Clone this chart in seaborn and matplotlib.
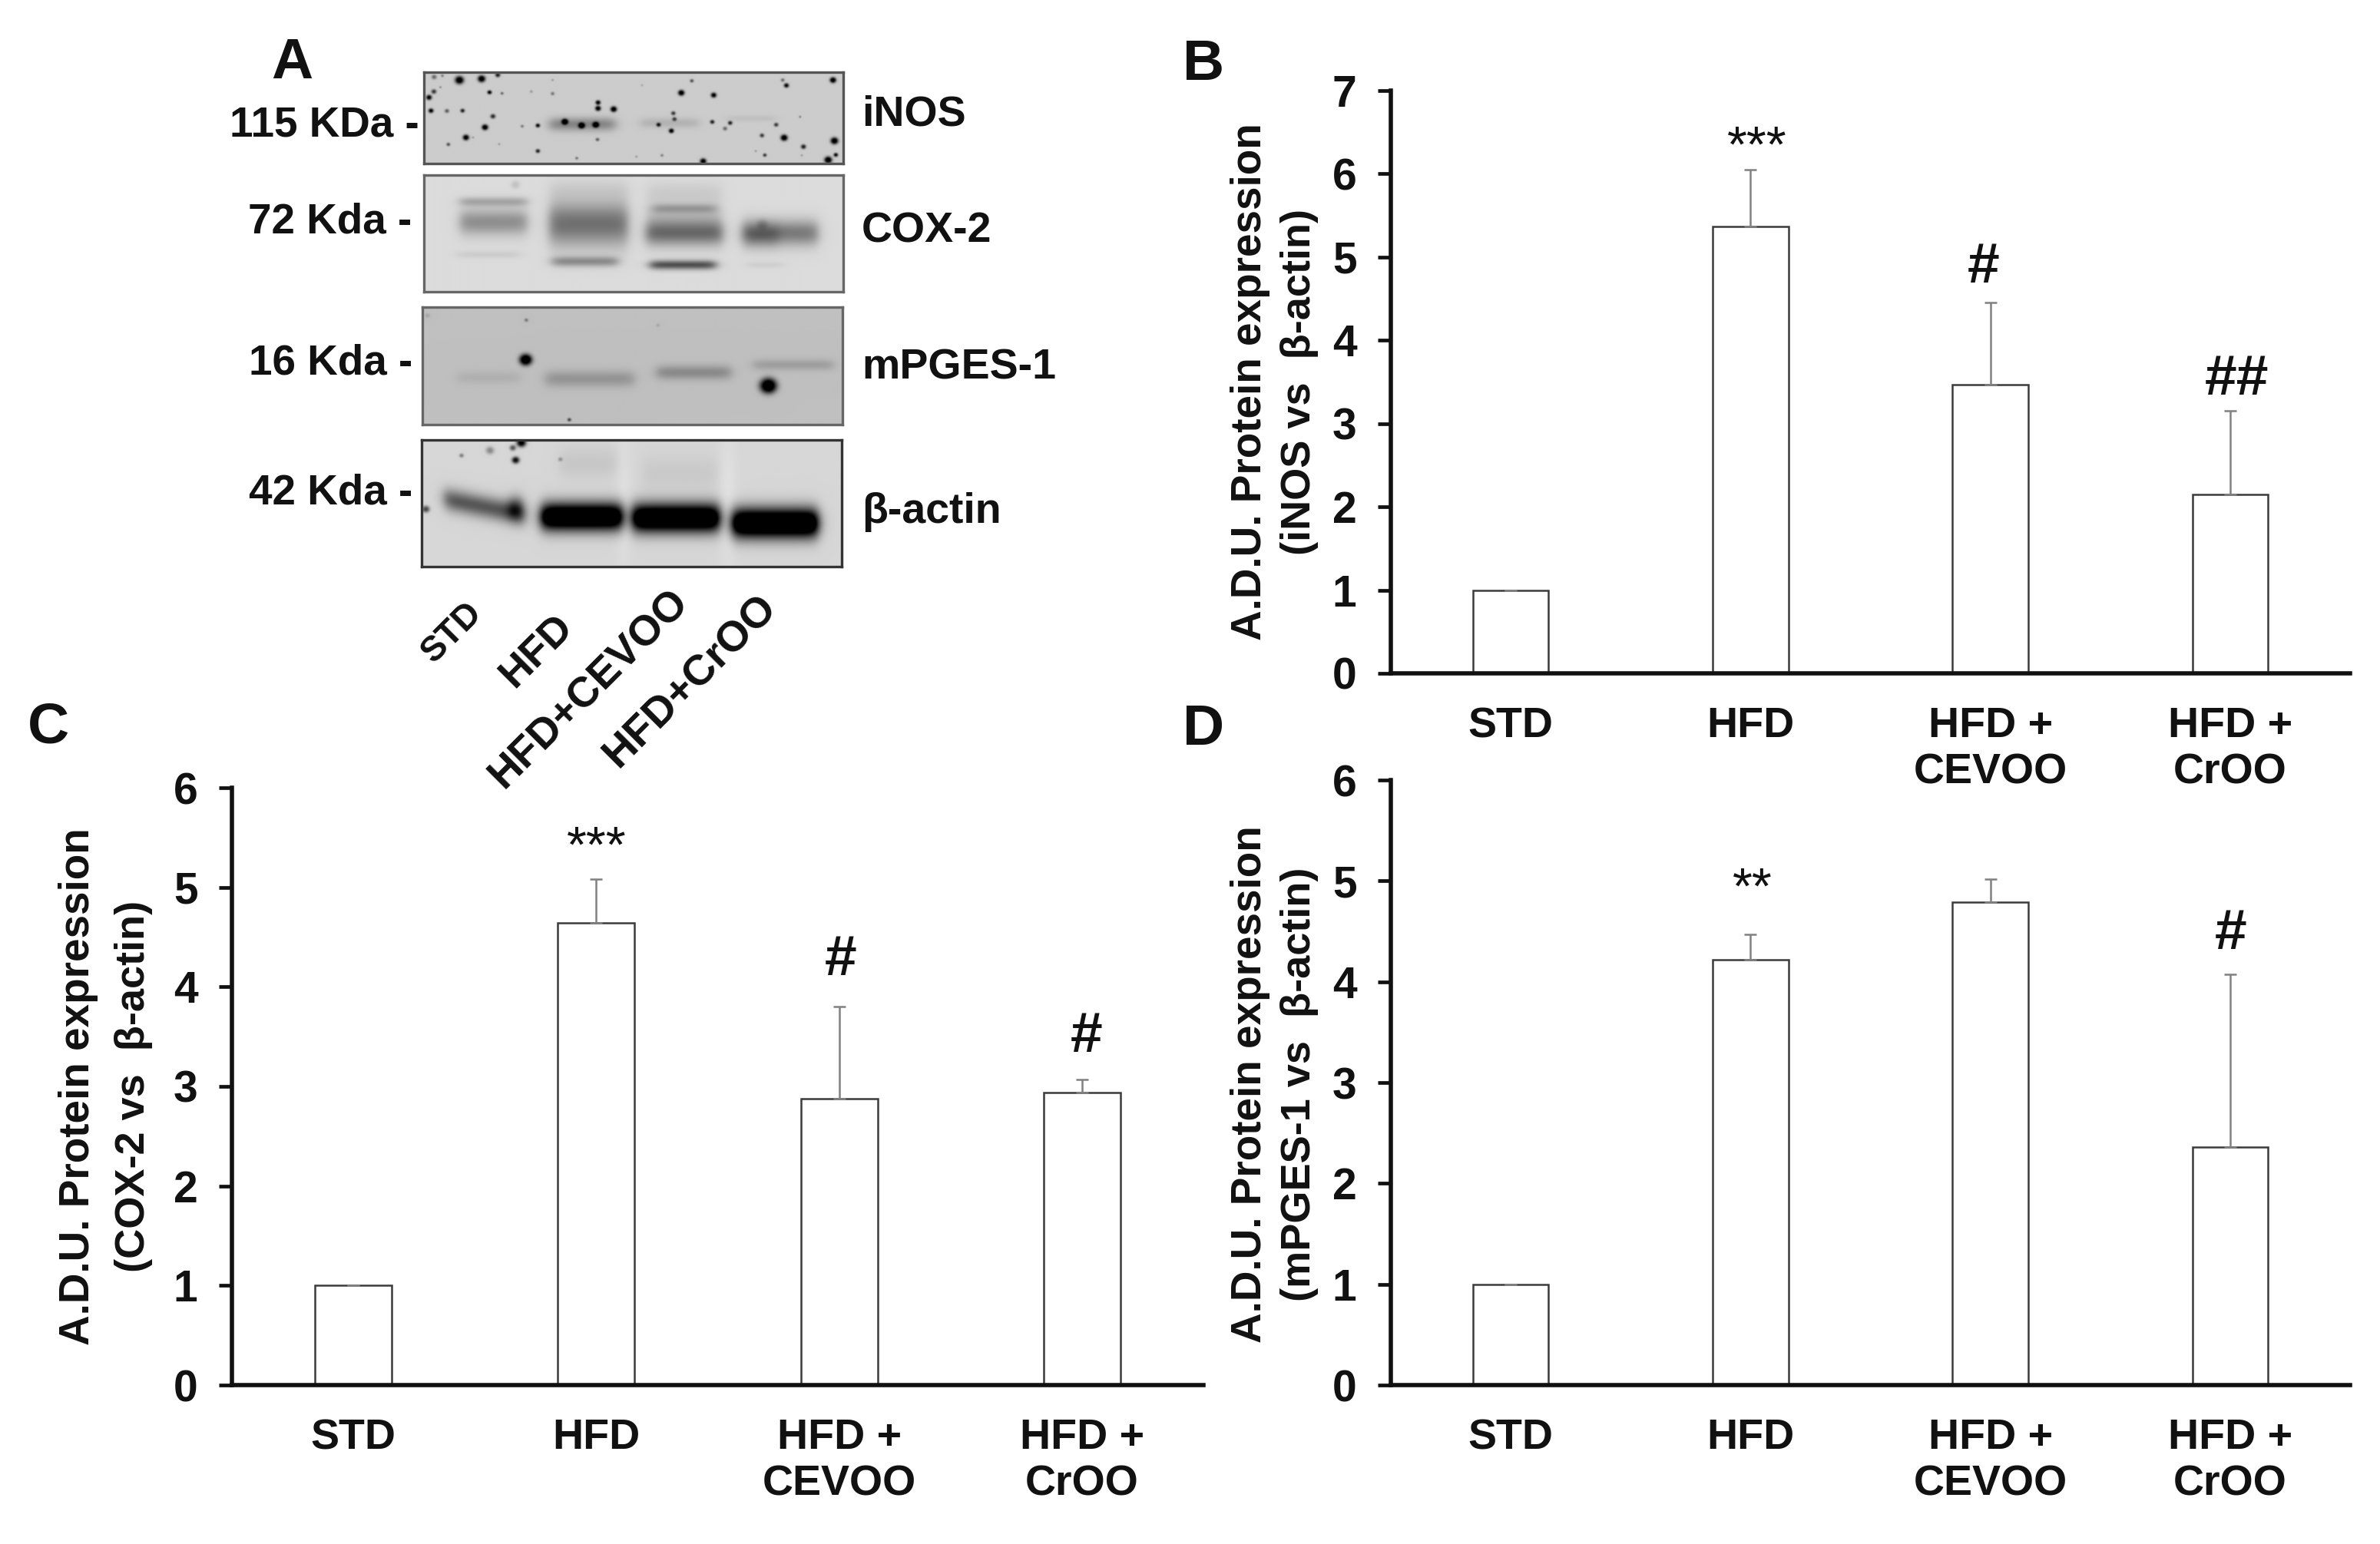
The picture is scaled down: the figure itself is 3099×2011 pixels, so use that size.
import numpy as np
import seaborn as sns
import matplotlib
matplotlib.use('Agg')
import matplotlib.pyplot as plt

W, H = 3099, 2011

groups = ['STD', 'HFD', 'HFD +\nCEVOO', 'HFD +\nCrOO']
inos_mean = [1.0, 5.37, 3.47, 2.15]
inos_top = [1.0, 6.05, 4.45, 3.15]
cox_mean = [1.0, 4.64, 2.88, 2.94]
cox_top = [1.0, 5.08, 3.80, 3.07]
pges_mean = [1.0, 4.22, 4.79, 2.36]
pges_top = [1.0, 4.47, 5.02, 4.07]

# blot marks: bands (x0, x1, y, sigma, darkness, tilt), specks (x, y, r, darkness)
inos_bands = [(475, 705, 245, 26, .28, 0), (795, 1000, 240, 20, .10, 0), (1100, 1270, 222, 12, .05, 0)]
inos_specks = [(157, 72, 14, .95), (235, 67, 12, .95), (292, 52, 8, .7), (68, 60, 8, .4), (97, 55, 5, .3),
               (67, 117, 8, .6), (50, 140, 9, .85), (90, 100, 4, .25), (57, 192, 8, .85), (113, 193, 7, .45),
               (168, 192, 7, .7), (263, 120, 7, .85), (307, 124, 5, .4), (275, 214, 8, .65), (247, 257, 10, .95),
               (180, 297, 10, .9), (118, 324, 6, .5), (205, 297, 4, .2), (297, 323, 4, .2), (378, 253, 5, .35),
               (433, 250, 7, .8), (433, 350, 7, .7), (410, 117, 5, .2), (485, 125, 6, .35), (485, 72, 4, .2),
               (528, 235, 10, .95), (587, 250, 10, .95), (637, 247, 10, .9), (645, 160, 8, .85), (645, 183, 9, .9),
               (700, 186, 10, .95), (643, 305, 6, .45), (570, 378, 5, .35), (800, 92, 4, .15), (858, 247, 7, .7),
               (910, 202, 7, .6), (914, 225, 7, .55), (903, 271, 8, .9), (938, 122, 10, .95), (975, 75, 6, .5),
               (1052, 131, 9, .85), (1047, 236, 7, .7), (1110, 240, 7, .7), (1092, 262, 7, .4), (1222, 289, 7, .6),
               (1272, 247, 7, .6), (1300, 298, 11, .95), (1295, 72, 6, .4), (1308, 93, 8, .8), (1356, 216, 4, .3),
               (1368, 333, 8, .7), (1232, 366, 6, .6), (1472, 72, 10, .95), (1477, 310, 12, .95), (1455, 385, 12, .98),
               (1482, 365, 7, .8), (1015, 390, 10, .9), (870, 367, 5, .3), (780, 372, 4, .2), (1200, 350, 4, .2),
               (1362, 367, 4, .2)]
cox_bands = [(160, 395, 548, 18, .20, 0), (160, 395, 628, 50, .30, 0), (150, 370, 755, 14, .06, 0),
             (475, 750, 635, 85, .42, 0), (485, 715, 782, 20, .30, 0),
             (480, 750, 500, 40, .05, 0), (815, 1085, 672, 48, .40, 0), (840, 1060, 575, 18, .18, 0),
             (820, 1080, 610, 70, .12, 0), (830, 1060, 795, 18, .55, 0), (820, 1080, 510, 40, .05, 0),
             (1155, 1420, 670, 50, .38, 0), (1160, 1280, 680, 48, .14, 0), (1170, 1300, 795, 12, .05, 0)]
cox_specks = [(355, 482, 14, .10), (1225, 635, 18, .12)]
pges_bands = [(150, 370, 305, 26, .06, 0), (460, 770, 310, 32, .17, 0), (850, 1110, 285, 28, .21, 0),
              (1190, 1470, 255, 22, .13, 0)]
pges_specks = [(390, 235, 20, 1.0), (1242, 337, 27, 1.0), (392, 80, 6, .3), (45, 62, 8, .1), (543, 470, 6, .5),
               (855, 100, 6, .1)]
actin_bands = [(105, 385, 780, 44, .50, .22), (335, 378, 815, 48, .50, 0), (445, 730, 850, 54, 1.25, 0),
               (765, 1070, 855, 56, 1.25, 0), (1115, 1415, 875, 58, 1.3, 0), (510, 710, 640, 60, .06, 0),
               (800, 1060, 680, 70, .05, 0), (720, 750, 800, 300, -.06, 0), (1080, 1120, 800, 300, -.06, 0)]
actin_specks = [(165, 610, 7, .35), (265, 590, 13, .3), (345, 580, 10, .5), (355, 628, 12, .8), (375, 560, 15, .9),
                (40, 820, 12, .55), (512, 625, 7, .25)]


def blot_image(box, bg, bands, specks):
    '''box is x0,x1,y0,y1 of the blot in crop units, 2 pixels a unit is plenty'''
    xs = np.arange(box[0], box[1], 2.0)
    ys = np.arange(box[2], box[3], 2.0)
    xx, yy = np.meshgrid(xs, ys)
    dark = np.zeros_like(xx)
    for x0, x1, y, s, d, tilt in bands:
        across = 0.5 * (np.tanh((xx - x0) / 22) - np.tanh((xx - x1) / 22))
        dark += d * across * np.exp(-((yy - y - tilt * (xx - x0)) / s) ** 2)
    for x, y, r, d in specks:
        dark += d * np.exp(-(np.hypot(xx - x, yy - y) / (1.1 * r)) ** 2.5)
    return np.clip(bg - dark, 0, 1)


def px_axes(left, right, top, bottom):
    return fig.add_axes([left / W, 1 - bottom / H, (right - left) / W, (bottom - top) / H])


def put(x, y, s, **kw):
    kw.setdefault('ha', 'center')
    kw.setdefault('va', 'center')
    kw.setdefault('fontweight', 'bold')
    kw.setdefault('color', '#111111')
    return fig.text(x / W, 1 - y / H, s, **kw)


def blot(left, right, top, bottom, box, bg, bands, specks, edge):
    ax = px_axes(left, right, top, bottom)
    ax.imshow(blot_image(box, bg, bands, specks), cmap='gray', vmin=0, vmax=1, aspect='auto', interpolation='bicubic')
    ax.set_xticks([])
    ax.set_yticks([])
    for sp in ax.spines.values():
        sp.set_linewidth(2.4)
        sp.set_color(edge)


def bars(left, right, top, bottom, means, tops, ymax):
    ax = px_axes(left, right, top, bottom)
    ax.patch.set_visible(False)
    sns.barplot(x=groups, y=means, color='white', edgecolor='#3a3a3a', linewidth=1.8, width=0.316,
                saturation=1, errorbar=None, ax=ax)
    up = np.array(tops) - np.array(means)
    ax.errorbar(range(4), means, yerr=[np.zeros(4), up], fmt='none', ecolor='#808080', elinewidth=1.8,
                capsize=6, capthick=1.8, zorder=1)
    ax.set_xlim(-0.5, 3.5)
    ax.set_ylim(0, ymax)
    ax.set_yticks(range(ymax + 1))
    ax.set_ylabel(None)
    sns.despine(ax=ax)
    for sp in ['left', 'bottom']:
        ax.spines[sp].set_linewidth(4)
        ax.spines[sp].set_color('#111111')
    ax.tick_params(axis='y', left=True, length=12, width=3.4, pad=20, labelsize=41, labelcolor='#111111', color='#111111')
    ax.tick_params(axis='x', length=0, pad=31, labelsize=40, labelcolor='#111111')
    for t in ax.get_xticklabels() + ax.get_yticklabels():
        t.set_fontweight('bold')
    for t in ax.get_xticklabels():
        t.set_linespacing(1.2)
    return ax


sns.set_theme(style='white')
plt.rcParams['font.family'] = ['Liberation Sans', 'DejaVu Sans']
fig = plt.figure(figsize=(W / 100, H / 100), dpi=100, facecolor='white')

# panel A
blot(552, 1098, 94, 213, (33, 1508, 42, 400), .80, inos_bands, inos_specks, '#555555')
blot(552, 1098, 228, 380, (33, 1510, 445, 900), .86, cox_bands, cox_specks, '#666666')
blot(550, 1097, 400, 553, (28, 1505, 30, 490), .75, pges_bands, pges_specks, '#666666')
blot(549, 1096, 573, 738, (26, 1500, 550, 1045), .84, actin_bands, actin_specks, '#333333')

for y, s, xr in [(163, '115 KDa -', 546), (290, '72 Kda -', 536), (474, '16 Kda -', 537), (643, '42 Kda -', 537)]:
    put(xr, y, s, ha='right', fontsize=39.5)
for y, s in [(150, 'iNOS'), (302, 'COX-2'), (479, 'mPGES-1'), (667, 'β-actin')]:
    put(1122, y, s, ha='left', fontsize=40)
for x, y, s, fs in [(589, 824, 'STD', 33), (699, 848, 'HFD', 39), (767, 898, 'HFD+CEVOO', 39.5), (899, 888, 'HFD+CrOO', 40)]:
    put(x, y, s, rotation=45, rotation_mode='anchor', fontsize=fs)

# panels B, C, D
bars(1811, 3060, 118, 877, inos_mean, inos_top, 7)
bars(302, 1567, 1026, 1804, cox_mean, cox_top, 6)
bars(1811, 3060, 1016, 1804, pges_mean, pges_top, 6)

for x1, x2, yc, txt in [(1628, 1692, 497, '(iNOS vs  β-actin)'), (102, 174, 1415, '(COX-2 vs  β-actin)'),
                        (1628, 1692, 1412, '(mPGES-1 vs  β-actin)')]:
    put(x1, yc, 'A.D.U. Protein expression', rotation=90, fontsize=39.5)
    put(x2, yc, txt, rotation=90, fontsize=39)

for x, y, s, fs, w in [(2288, 194, '***', 48, 'normal'), (2583, 348, '#', 54, 'bold'), (2913, 495, '##', 54, 'bold'),
                       (777, 1106, '***', 48, 'normal'), (1095, 1250, '#', 54, 'bold'), (1415, 1350, '#', 54, 'bold'),
                       (2282, 1160, '**', 48, 'normal'), (2905, 1217, '#', 54, 'bold')]:
    put(x, y, s, fontsize=fs, fontweight=w)

for x, y, s in [(380, 83, 'A'), (1567, 84, 'B'), (63, 948, 'C'), (1567, 950, 'D')]:
    put(x, y, s, fontsize=54)

fig.savefig('out.png', dpi=100, facecolor='white')
